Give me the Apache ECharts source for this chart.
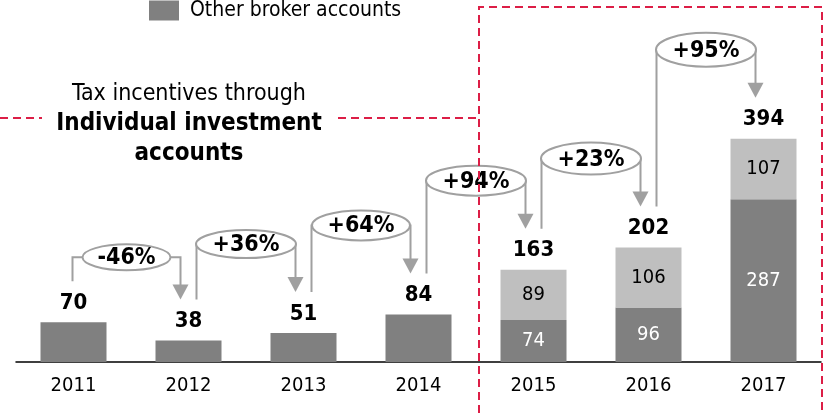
<!DOCTYPE html>
<html>
<head>
<meta charset="utf-8">
<script src="https://cdn.jsdelivr.net/npm/echarts@6/dist/echarts.min.js"></script>
<style>
  html, body { margin: 0; padding: 0; background: #fff; }
  #chart { width: 823px; height: 413px; }
</style>
</head>
<body>
<div id="chart"></div>
<script>
// Brokerage accounts by year
const years = ['2011', '2012', '2013', '2014', '2015', '2016', '2017'];
const otherAccounts = [70, 38, 51, 84, 74, 96, 287];
const iisAccounts = [null, null, null, null, 89, 106, 107];
const totals = [70, 38, 51, 84, 163, 202, 394];

// Year-over-year growth callouts: from year index -> next year index
const growthFrom = [0, 1, 2, 3, 4, 5];
const growthLabels = ['-46%', '+36%', '+64%', '+94%', '+23%', '+95%'];

const FONT = '"DejaVu Sans Condensed", "DejaVu Sans", sans-serif';
const DARK = '#808080';
const LIGHT = '#bfbfbf';
const CONNECTOR = '#a0a0a0';
const RED = '#dc1e46';

// callout geometry (px): lift of the bubble above the taller bar, bubble radii, start offset
const calloutStyle = [
  { lift: 65, rx: 44, ry: 13, dx: -1 },
  { lift: 89, rx: 50, ry: 14, dx: 8 },
  { lift: 89, rx: 49, ry: 15, dx: 8 },
  { lift: 89, rx: 50, ry: 15, dx: 8 },
  { lift: 89, rx: 50, ry: 16, dx: 8 },
  { lift: 89, rx: 50, ry: 17, dx: 8 }
];

const chart = echarts.init(document.getElementById('chart'), null, { renderer: 'canvas' });

function renderCallout(params, api) {
  const i = params.dataIndex;
  const a = growthFrom[i];
  const b = a + 1;
  const st = calloutStyle[i];
  const pA = api.coord([a, totals[a]]);
  const pB = api.coord([b, totals[b]]);
  const x1 = pA[0] + st.dx;
  const x2 = pB[0] - 8;
  const y1 = pA[1] - 41;
  const tip = pB[1] - 41;
  const yc = Math.min(pA[1], pB[1]) - st.lift;
  const cx = (x1 + x2) / 2;
  const lineStyle = { stroke: CONNECTOR, lineWidth: 2, fill: null };
  return {
    type: 'group',
    children: [
      { type: 'polyline', shape: { points: [[x1, y1], [x1, yc], [cx - st.rx, yc]] }, style: lineStyle },
      { type: 'polyline', shape: { points: [[cx + st.rx, yc], [x2, yc], [x2, tip - 14]] }, style: lineStyle },
      { type: 'polygon', shape: { points: [[x2 - 8, tip - 15], [x2 + 8, tip - 15], [x2, tip]] }, style: { fill: CONNECTOR } },
      { type: 'ellipse', shape: { cx: cx, cy: yc, rx: st.rx, ry: st.ry }, style: { fill: '#fff', stroke: CONNECTOR, lineWidth: 2 } },
      {
        type: 'text',
        x: cx, y: yc + 1,
        style: {
          text: growthLabels[i], fill: '#000', font: 'bold 23px ' + FONT,
          align: 'center', verticalAlign: 'middle'
        }
      }
    ]
  };
}

const option = {
  animation: false,
  backgroundColor: '#fff',
  textStyle: { fontFamily: FONT },
  grid: { left: 16, right: 2, top: 22, bottom: 51, containLabel: false },
  legend: {
    data: ['Other broker accounts'],
    left: 149, top: 0, padding: 0,
    itemWidth: 30, itemHeight: 20,
    icon: 'rect',
    textStyle: { fontSize: 21, color: '#000', fontFamily: FONT, padding: [0, 0, 0, 6] }
  },
  xAxis: {
    type: 'category',
    data: years,
    axisTick: { show: false },
    axisLine: { lineStyle: { color: '#000', width: 1.5 } },
    axisLabel: { fontSize: 20, color: '#000', margin: 14, fontFamily: FONT }
  },
  yAxis: { type: 'value', min: 0, max: 600, show: false, splitLine: { show: false } },
  series: [
    {
      name: 'Other broker accounts',
      type: 'bar', stack: 'acc', barWidth: 66,
      data: otherAccounts,
      itemStyle: { color: DARK },
      label: {
        show: true, position: 'inside', color: '#fff', fontSize: 20, fontFamily: FONT,
        formatter: (p) => (iisAccounts[p.dataIndex] != null ? String(p.value) : '')
      }
    },
    {
      name: 'Individual investment accounts',
      type: 'bar', stack: 'acc', barWidth: 66,
      data: iisAccounts,
      itemStyle: { color: LIGHT },
      label: { show: true, position: 'inside', color: '#000', fontSize: 20, fontFamily: FONT }
    },
    {
      name: 'Total',
      type: 'scatter',
      data: totals,
      symbolSize: 0,
      silent: true,
      itemStyle: { opacity: 1 },
      label: {
        show: true, position: 'top', distance: 8, opacity: 1,
        color: '#000', fontSize: 22, fontWeight: 'bold', fontFamily: FONT,
        formatter: (p) => String(p.value)
      }
    },
    {
      name: 'Growth',
      type: 'custom',
      silent: true,
      data: growthFrom.map((a) => [a, totals[a]]),
      encode: { x: 0, y: 1 },
      renderItem: renderCallout,
      z: 5
    }
  ],
  graphic: [
    // dashed frame around the IIA period
    { type: 'polyline', shape: { points: [[479, 413], [479, 7], [822, 7], [822, 413]] },
      style: { stroke: RED, lineWidth: 2, lineDash: [8, 5], fill: null }, z: 10 },
    { type: 'line', shape: { x1: 0, y1: 118, x2: 42, y2: 118 },
      style: { stroke: RED, lineWidth: 2, lineDash: [8, 5] }, z: 10 },
    { type: 'line', shape: { x1: 338, y1: 118, x2: 479, y2: 118 },
      style: { stroke: RED, lineWidth: 2, lineDash: [8, 5] }, z: 10 },
    {
      type: 'text', x: 189, y: 79, z: 10,
      style: {
        text: '{n|Tax incentives through}\n{b|Individual investment}\n{b|accounts}',
        align: 'center',
        rich: {
          n: { fontSize: 23, fontFamily: FONT, fill: '#000', lineHeight: 30, align: 'center' },
          b: { fontSize: 24, fontFamily: FONT, fontWeight: 'bold', fill: '#000', lineHeight: 30, align: 'center' }
        }
      }
    }
  ]
};

chart.setOption(option);
</script>
</body>
</html>
